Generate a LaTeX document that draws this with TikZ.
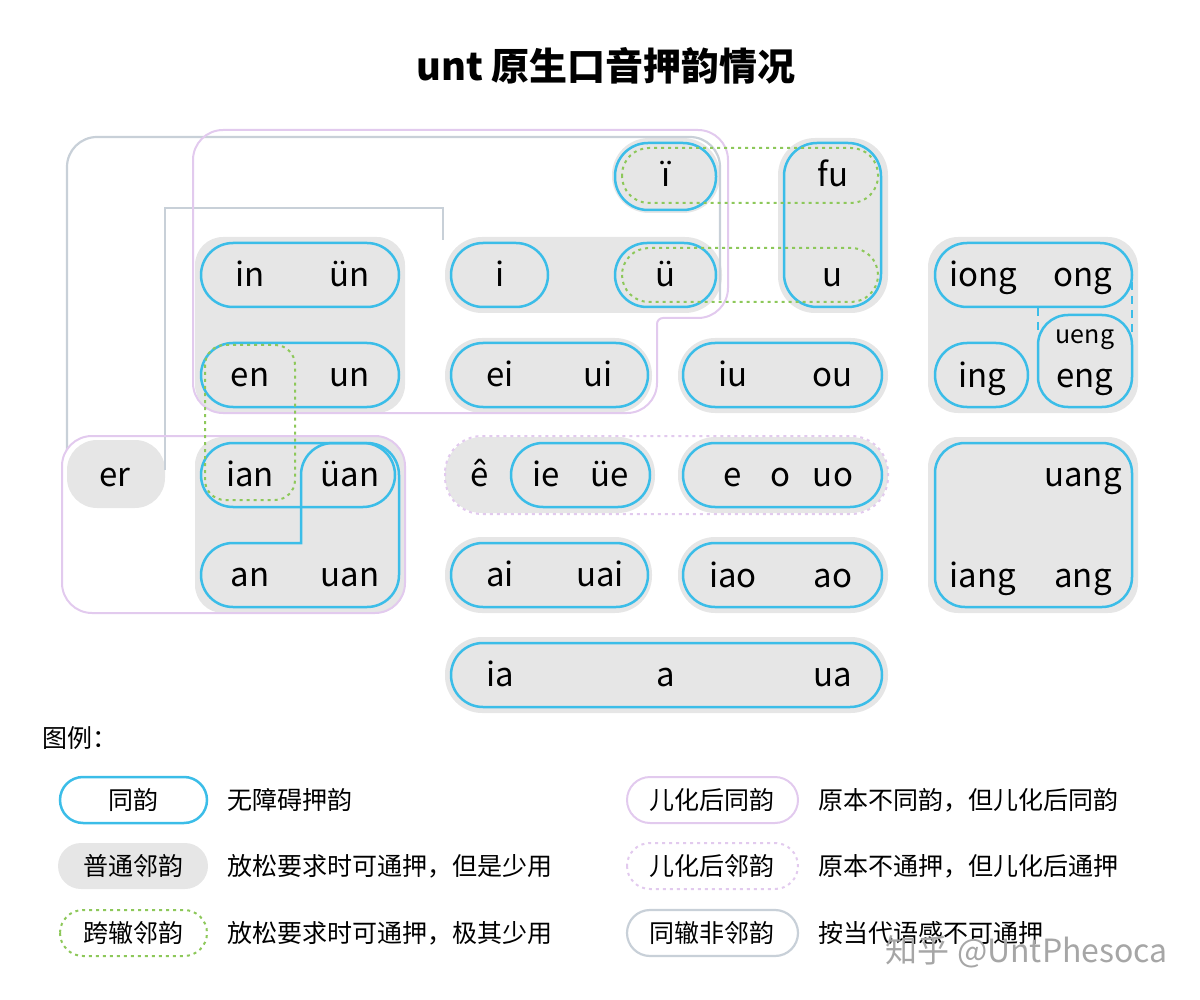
\documentclass[tikz,border=0pt]{standalone}
\usepackage{fontspec}
\setmainfont{Noto Sans CJK SC}
\definecolor{bl}{HTML}{3BBDE8}
\definecolor{gf}{HTML}{E6E6E6}
\definecolor{gl}{HTML}{C8D0D8}
\definecolor{pk}{HTML}{E2CAEE}
\definecolor{gr}{HTML}{8DC85A}
\tikzset{
 gbox/.style={fill=gf,draw=none},
 bpill/.style={draw=bl,line width=2.5pt},
 bdash/.style={draw=bl,line width=2.5pt,dash pattern=on 8pt off 6pt},
 gdash/.style={draw=gr,line width=2pt,dash pattern=on 3pt off 4pt},
 pline/.style={draw=pk,line width=2pt},
 pdash/.style={draw=pk,line width=2pt,dash pattern=on 3pt off 4pt},
 gline/.style={draw=gl,line width=2.2pt},
 lab/.style={font=\fontsize{33}{36}\selectfont,inner sep=0pt,text height=0.55em,text depth=0.2em,yshift=-9pt},
 leg/.style={font=\fontsize{25}{28}\selectfont,inner sep=0pt,anchor=west},
 legc/.style={font=\fontsize{25}{28}\selectfont,inner sep=0pt}
}
\begin{document}
\begin{tikzpicture}[x=1pt,y=-1pt]
\useasboundingbox (0,0) rectangle (1200,1000);
\node[font=\fontsize{38}{42}\selectfont\bfseries] (title) at (606,66) {unt 原生口音押韵情况};
% gray fills
\fill[gbox,rounded corners=37] (612,138) rectangle (720,213);
\fill[gbox,rounded corners=37] (778,138) rectangle (888,313);
\fill[gbox,rounded corners=28] (195,237) rectangle (405,413);
\fill[gbox,rounded corners=37] (445,237) rectangle (722,313);
\fill[gbox,rounded corners=37] (445,338) rectangle (652,413);
\fill[gbox,rounded corners=37] (678,338) rectangle (888,413);
\fill[gbox,rounded corners=30] (928,237) rectangle (1138,413);
\fill[gbox,rounded corners=30] (67,440) rectangle (165,508);
\fill[gbox,rounded corners=28] (195,437) rectangle (405,613);
\fill[gbox,rounded corners=37] (445,437) rectangle (655,513);
\fill[gbox,rounded corners=37] (678,437) rectangle (888,513);
\fill[gbox,rounded corners=37] (445,537) rectangle (652,613);
\fill[gbox,rounded corners=37] (678,537) rectangle (888,613);
\fill[gbox,rounded corners=30] (928,437) rectangle (1138,613);
\fill[gbox,rounded corners=37] (445,637) rectangle (888,713);
% gray outline (same-rhyme-group non-neighbour)
\draw[gline,rounded corners=30] (67,450) -- (67,137) -- (720,137) -- (720,300);
\draw[gline] (165,470) -- (165,208) -- (443,208) -- (443,240);
% pink outlines
\draw[pline,rounded corners=30] (193,413) -- (193,130) -- (728,130) -- (728,318) [rounded corners=6]-- (657,318) [rounded corners=30]-- (657,413) -- cycle;
\draw[pline,rounded corners=30] (62,436) rectangle (405,613);
\draw[pdash,rounded corners=37] (445,436) rectangle (888,514);
% blue pills
\draw[bpill,rounded corners=33] (615,143) rectangle (716,210);
\draw[bpill,rounded corners=33] (784,143) rectangle (881,307);
\draw[bpill,rounded corners=32] (201,243) rectangle (399,307);
\draw[bpill,rounded corners=32] (201,343) rectangle (399,407);
\draw[bpill,rounded corners=32] (451,243) rectangle (548,307);
\draw[bpill,rounded corners=32] (615,243) rectangle (716,307);
\draw[bpill,rounded corners=32] (451,343) rectangle (648,407);
\draw[bpill,rounded corners=32] (683,343) rectangle (882,407);
\draw[bpill,rounded corners=32] (935,243) rectangle (1132,307);
\draw[bpill,rounded corners=32] (935,343) rectangle (1028,407);
\draw[bpill,rounded corners=30] (1038,315) rectangle (1132,407);
\draw[bdash] (1038,308) -- (1038,334);
\draw[bdash] (1132,282) -- (1132,334);
\draw[bpill,rounded corners=32] (201,443) rectangle (395,507);
\draw[bpill,rounded corners=32] (301,443) -- (399,443) -- (399,607) -- (201,607) -- (201,543) [sharp corners]-- (301,543) [rounded corners=32]-- cycle;
\draw[bpill,rounded corners=32] (511,443) rectangle (650,507);
\draw[bpill,rounded corners=32] (683,443) rectangle (882,507);
\draw[bpill,rounded corners=32] (451,543) rectangle (648,607);
\draw[bpill,rounded corners=32] (683,543) rectangle (882,607);
\draw[bpill,rounded corners=30] (935,443) rectangle (1132,607);
\draw[bpill,rounded corners=32] (451,643) rectangle (882,707);
% green dashed
\draw[gdash,rounded corners=27] (622,148) rectangle (878,203);
\draw[gdash,rounded corners=27] (622,248) rectangle (878,302);
\draw[gdash,rounded corners=20] (205,345) rectangle (295,500);
% labels
\node[lab] (li) at (666,176) {ï};
\node[lab] (lfu) at (833,176) {fu};
\node[lab] (lu) at (833,276) {u};
\node[lab] (lin) at (250,276) {in};
\node[lab] (lun2) at (350,276) {ün};
\node[lab] (lii) at (500,276) {i};
\node[lab] (lyu) at (666,276) {ü};
\node[lab] (len) at (250,376) {en};
\node[lab] (lun) at (350,376) {un};
\node[lab] (lei) at (500,376) {ei};
\node[lab] (lui) at (598,376) {ui};
\node[lab] (liu) at (733,376) {iu};
\node[lab] (lou) at (833,376) {ou};
\node[lab] (liong) at (983,276) {iong};
\node[lab] (long) at (1083,276) {ong};
\node[lab] (ling) at (982,377) {ing};
\node[lab,font=\fontsize{25}{28}\selectfont] (lueng) at (1085,333) {ueng};
\node[lab] (leng) at (1085,377) {eng};
\node[lab] (ler) at (115,476) {er};
\node[lab] (lian) at (250,476) {ian};
\node[lab] (lyuan) at (350,476) {üan};
\node[lab] (lan) at (250,576) {an};
\node[lab] (luan) at (350,576) {uan};
\node[lab] (leh) at (480,476) {ê};
\node[lab] (lie) at (546,476) {ie};
\node[lab] (lye) at (610,476) {üe};
\node[lab] (le) at (733,476) {e};
\node[lab] (lo) at (780,476) {o};
\node[lab] (luo) at (833,476) {uo};
\node[lab] (luang) at (1083,476) {uang};
\node[lab] (liang) at (983,577) {iang};
\node[lab] (lang) at (1083,577) {ang};
\node[lab] (lai) at (500,576) {ai};
\node[lab] (luai) at (600,576) {uai};
\node[lab] (liao) at (733,577) {iao};
\node[lab] (lao) at (833,577) {ao};
\node[lab] (lia) at (500,676) {ia};
\node[lab] (la) at (666,676) {a};
\node[lab] (lua) at (833,676) {ua};
% legend
\node[leg] (lg) at (42,738) {图例：};
\draw[bpill,rounded corners=23] (60,777) rectangle (207,823);
\node[legc] (k1) at (133,800) {同韵};
\node[leg] (t1) at (227,800) {无障碍押韵};
\fill[gbox,rounded corners=23] (58,843) rectangle (208,889);
\node[legc] (k2) at (133,866) {普通邻韵};
\node[leg] (t2) at (227,866) {放松要求时可通押，但是少用};
\draw[gdash,rounded corners=23] (60,910) rectangle (207,956);
\node[legc] (k3) at (133,933) {跨辙邻韵};
\node[leg] (t3) at (227,933) {放松要求时可通押，极其少用};
\draw[pline,rounded corners=23] (627,777) rectangle (798,823);
\node[legc] (k4) at (712,800) {儿化后同韵};
\node[leg] (t4) at (818,800) {原本不同韵，但儿化后同韵};
\draw[pdash,rounded corners=23] (627,843) rectangle (798,889);
\node[legc] (k5) at (712,866) {儿化后邻韵};
\node[leg] (t5) at (818,866) {原本不通押，但儿化后通押};
\draw[gline,rounded corners=23] (627,910) rectangle (798,956);
\node[legc] (k6) at (712,933) {同辙非邻韵};
\node[leg] (t6) at (818,933) {按当代语感不可通押};
\node[font=\fontsize{32}{34}\selectfont,text=black!35,anchor=east,inner sep=0pt] (wm) at (1168,952) {知乎 @UntPhesoca};
\end{tikzpicture}
\end{document}
